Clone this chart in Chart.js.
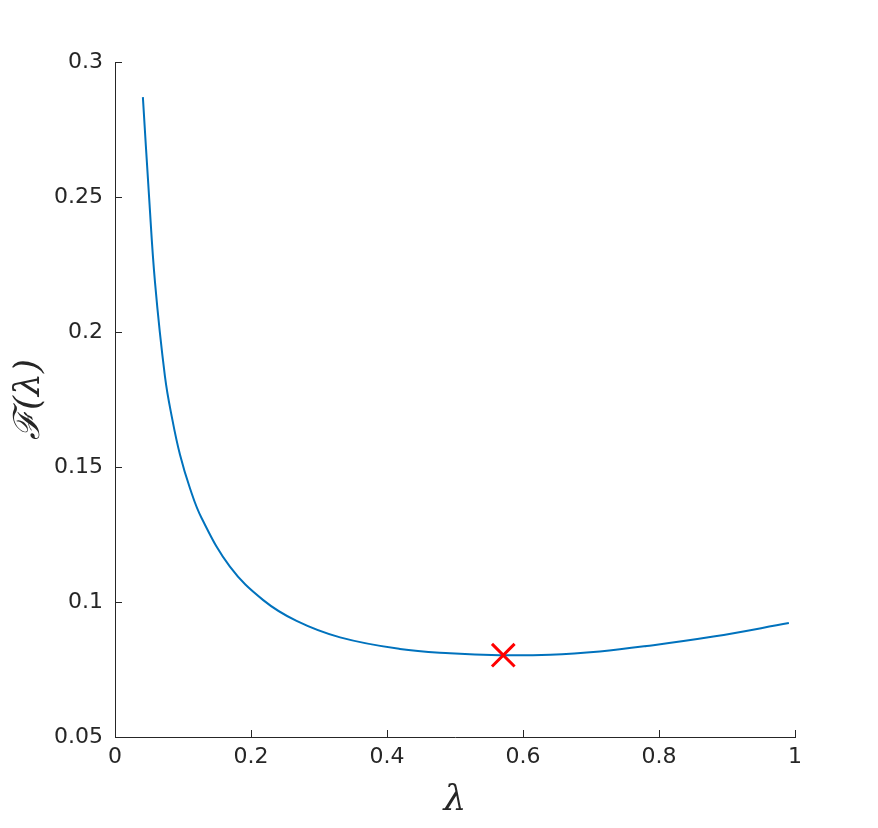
<!DOCTYPE html>
<html>
<head>
<meta charset="utf-8">
<script src="https://cdn.jsdelivr.net/npm/chart.js@4.4.1/dist/chart.umd.min.js"></script>
<style>
  html, body { margin: 0; padding: 0; background: #fff; }
  #chart { display: block; }
</style>
</head>
<body>
<canvas id="chart" width="878" height="828"></canvas>
<script>
// curve F(lambda)
const lambdaVals = [0.041, 0.05, 0.0588, 0.0735, 0.084, 0.0956, 0.11, 0.1275, 0.169, 0.218, 0.267, 0.331, 0.419, 0.4926, 0.566, 0.64, 0.713, 0.782, 0.88, 0.991];
const fVals = [0.287, 0.2505, 0.2185, 0.1835, 0.168, 0.1545, 0.1423, 0.131, 0.1131, 0.1007, 0.093, 0.0869, 0.0826, 0.081, 0.0803, 0.0805, 0.0817, 0.0837, 0.0872, 0.0922];

// minimum marker
const minLambda = [0.571];
const minF = [0.0803];

const xTicks = [0, 0.2, 0.4, 0.6, 0.8, 1];
const yTicks = [0.05, 0.1, 0.15, 0.2, 0.25, 0.3];

const textColor = "#262626";

// ticks pointing into the plot (matlab style)
const inwardTicks = {
    id: "inwardTicks",
    afterDraw(chart) {
        const ctx = chart.ctx;
        const xs = chart.scales.x;
        const ys = chart.scales.y;
        const area = chart.chartArea;
        ctx.save();
        ctx.strokeStyle = textColor;
        ctx.lineWidth = 1;
        ctx.beginPath();
        xTicks.forEach(function (t) {
            const px = Math.round(xs.getPixelForValue(t)) + 0.5;
            ctx.moveTo(px, area.bottom);
            ctx.lineTo(px, area.bottom - 7);
        });
        yTicks.forEach(function (t) {
            const py = Math.round(ys.getPixelForValue(t)) + 0.5;
            ctx.moveTo(area.left, py);
            ctx.lineTo(area.left + 7, py);
        });
        ctx.stroke();
        ctx.restore();
    }
};

const curvePoints = lambdaVals.map(function (l, i) {
    return { x: l, y: fVals[i] };
});
const minPoints = minLambda.map(function (l, i) {
    return { x: l, y: minF[i] };
});

new Chart(document.getElementById("chart"), {
    type: "scatter",
    data: {
        datasets: [
            {
                data: curvePoints,
                showLine: true,
                borderColor: "#0072BD",
                borderWidth: 2,
                pointRadius: 0,
                tension: 0.4,
                order: 2,
            },
            {
                data: minPoints,
                pointStyle: "crossRot",
                pointRadius: 16,
                borderColor: "#FF0000",
                backgroundColor: "#FF0000",
                pointBorderWidth: 3,
                order: 1,
            },
        ],
    },
    options: {
        responsive: false,
        animation: false,
        layout: {
            padding: { left: 0, top: 62, right: 83, bottom: 0 },
        },
        scales: {
            x: {
                type: "linear",
                min: 0,
                max: 1,
                afterBuildTicks: function (scale) {
                    scale.ticks = xTicks.map(function (v) { return { value: v }; });
                },
                afterFit: function (scale) {
                    scale.height = 91;
                },
                ticks: {
                    color: textColor,
                    font: { family: "DejaVu Sans", size: 22 },
                    padding: 7,
                    maxRotation: 0,
                    callback: function (v) { return String(v); },
                },
                grid: { drawOnChartArea: false, drawTicks: false },
                border: { display: true, color: textColor, width: 1 },
                title: {
                    display: true,
                    text: "λ",
                    color: textColor,
                    font: { family: "DejaVu Serif", size: 36, style: "italic" },
                    padding: { top: 0, bottom: 6 },
                },
            },
            y: {
                type: "linear",
                min: 0.05,
                max: 0.3,
                afterBuildTicks: function (scale) {
                    scale.ticks = yTicks.map(function (v) { return { value: v }; });
                },
                afterFit: function (scale) {
                    scale.width = 115;
                },
                ticks: {
                    color: textColor,
                    font: { family: "DejaVu Sans", size: 22 },
                    padding: 12,
                    callback: function (v) { return String(v); },
                },
                grid: { drawOnChartArea: false, drawTicks: false },
                border: { display: true, color: textColor, width: 1 },
                title: {
                    display: true,
                    text: "ℱ(λ)",
                    color: textColor,
                    font: { family: "DejaVu Serif", size: 36, style: "italic" },
                    padding: { top: 8, bottom: 0 },
                },
            },
        },
        plugins: {
            legend: { display: false },
            tooltip: { enabled: false },
        },
    },
    plugins: [inwardTicks],
});
</script>
</body>
</html>
